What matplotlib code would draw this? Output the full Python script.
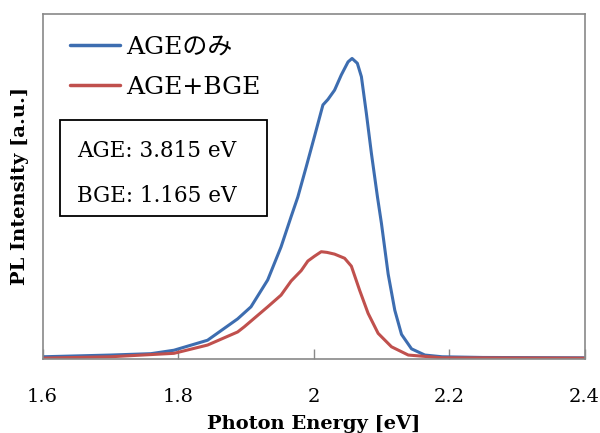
import matplotlib
matplotlib.use("Agg")
import matplotlib.pyplot as plt
from matplotlib.patches import Rectangle
from matplotlib.font_manager import FontProperties

# Photon energy [eV] and PL intensity (arb. units)
energy_age = [1.60, 1.70, 1.76, 1.794, 1.8436, 1.888, 1.9077, 1.9324, 1.9521,
              1.967, 1.9769, 1.9892, 2.0015, 2.0139, 2.0213, 2.0311, 2.041,
              2.051, 2.0569, 2.0647, 2.0707, 2.078, 2.0855, 2.0944, 2.1003,
              2.1102, 2.12, 2.1299, 2.1447, 2.1644, 2.19, 2.25, 2.40]
pl_age = [0.005, 0.010, 0.014, 0.024, 0.053, 0.115, 0.150, 0.228, 0.324,
          0.412, 0.469, 0.556, 0.645, 0.736, 0.752, 0.779, 0.823,
          0.861, 0.871, 0.857, 0.818, 0.712, 0.595, 0.469, 0.392,
          0.245, 0.140, 0.070, 0.028, 0.010, 0.005, 0.003, 0.002]

energy_agebge = [1.60, 1.70, 1.794, 1.8436, 1.888, 1.8978, 1.9324, 1.9521,
                 1.967, 1.9818, 1.9917, 2.0015, 2.0114, 2.02, 2.0311, 2.0459,
                 2.0559, 2.0681, 2.0806, 2.0954, 2.1151, 2.1399, 2.19, 2.40]
pl_agebge = [0.001, 0.005, 0.015, 0.039, 0.077, 0.092, 0.150, 0.184,
             0.225, 0.255, 0.283, 0.297, 0.310, 0.308, 0.303, 0.291,
             0.268, 0.198, 0.131, 0.073, 0.034, 0.010, 0.002, 0.001]

series_labels = ["AGEのみ", "AGE+BGE"]
series_colors = ["#3D6DB0", "#C0504D"]
x_ticks = [1.6, 1.8, 2.0, 2.2, 2.4]
x_tick_labels = ["1.6", "1.8", "2", "2.2", "2.4"]
box_lines = ["AGE: 3.815 eV", "BGE: 1.165 eV"]

serif = ["DejaVu Serif", "Noto Sans CJK JP"]
plt.rcParams["font.family"] = serif

fig = plt.figure(figsize=(6.0, 4.33), dpi=100)
ax = fig.add_axes([42.5 / 600, 1 - 358.5 / 433, (584.5 - 42.5) / 600, (358.5 - 14) / 433])

ax.plot(energy_age, pl_age, color=series_colors[0], lw=2.2, label=series_labels[0],
        solid_joinstyle="round", solid_capstyle="round")
ax.plot(energy_agebge, pl_agebge, color=series_colors[1], lw=2.2, label=series_labels[1],
        solid_joinstyle="round", solid_capstyle="round")

ax.set_xlim(1.6, 2.4)
ax.set_ylim(0, 1.0)
ax.set_xticks(x_ticks)
ax.set_xticklabels(x_tick_labels, fontsize=14, family=serif)
ax.set_yticks([])
ax.tick_params(axis="x", direction="in", length=7, width=1.0, color="#898989", pad=21)
for s in ax.spines.values():
    s.set_color("#898989")
    s.set_linewidth(1.2)

ax.set_xlabel("Photon Energy [eV]", fontsize=14, fontweight="bold", labelpad=7, family=serif)
ax.set_ylabel("PL Intensity [a.u.]", fontsize=14, fontweight="bold", labelpad=10, family=serif)

leg_font = FontProperties(family=serif, size=18, weight="normal")
leg = ax.legend(loc="upper left", bbox_to_anchor=(70 / 600, 1 - 36 / 433),
                bbox_transform=fig.transFigure, frameon=False,
                prop=leg_font,
                handlelength=2.0, handletextpad=0.25, labelspacing=0.68,
                borderaxespad=0, borderpad=0)
for line in leg.get_lines():
    line.set_linewidth(2.5)
for t in leg.get_texts():
    t.set_fontfamily(serif)
    t.set_fontsize(18)

# annotation box
rect = Rectangle((60 / 600, 1 - 216 / 433), 207 / 600, 96 / 433,
                 transform=fig.transFigure, fill=False, edgecolor="black", lw=1.3)
fig.add_artist(rect)
fig.text(77 / 600, 1 - 151 / 433, box_lines[0], fontsize=15.5, va="center", ha="left", family=serif)
fig.text(77 / 600, 1 - 196 / 433, box_lines[1], fontsize=15.5, va="center", ha="left", family=serif)

fig.savefig("out.png", dpi=100, facecolor="white")
